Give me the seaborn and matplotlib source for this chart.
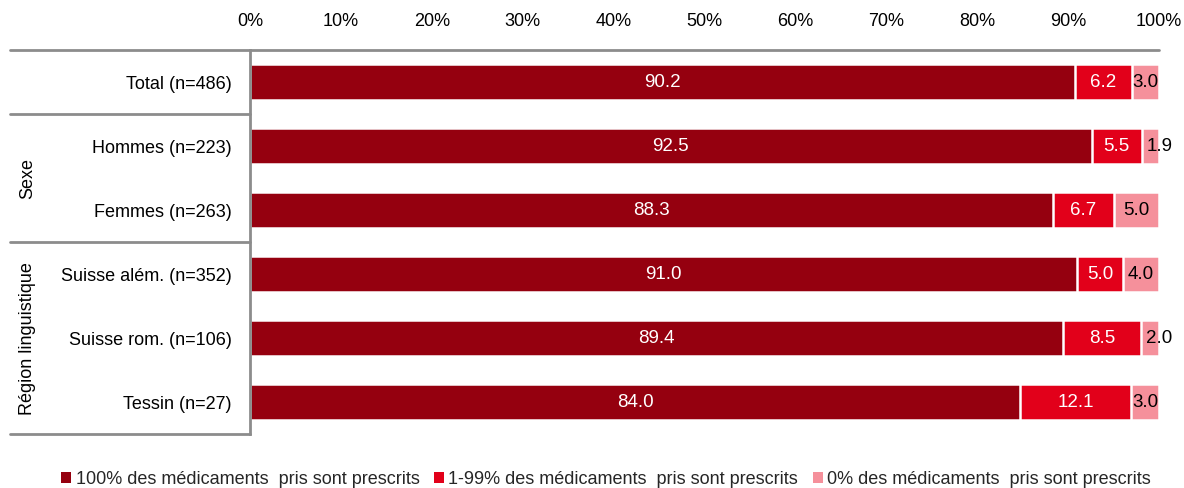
import matplotlib
matplotlib.use("Agg")
import matplotlib.pyplot as plt
import matplotlib.transforms as mtransforms
from matplotlib.patches import Patch
from matplotlib.lines import Line2D
import numpy as np
import pandas as pd
import seaborn as sns

# ---- data -------------------------------------------------------------
categories = ["Total (n=486)", "Hommes (n=223)", "Femmes (n=263)",
              "Suisse além. (n=352)", "Suisse rom. (n=106)", "Tessin (n=27)"]
full_prescribed = [90.2, 92.5, 88.3, 91.0, 89.4, 84.0]
partly_prescribed = [6.2, 5.5, 6.7, 5.0, 8.5, 12.1]
none_prescribed = [3.0, 1.9, 5.0, 4.0, 2.0, 3.0]
series_names = ["100% des médicaments  pris sont prescrits",
                "1-99% des médicaments  pris sont prescrits",
                "0% des médicaments  pris sont prescrits"]
groups = [("Sexe", 1, 2), ("Région linguistique", 3, 5)]
x_ticks = list(range(0, 101, 10))

colors = ["#95000F", "#E2001A", "#F5909B"]
label_colors = ["white", "white", "black"]
line_grey = "#8C8C8C"

sns.set_theme(style="white")
plt.rcParams["font.family"] = ["Liberation Sans", "DejaVu Sans"]
FS = 13

# each row is scaled to 100 %
raw = np.array([full_prescribed, partly_prescribed, none_prescribed])
share = raw / raw.sum(axis=0) * 100
cum = np.cumsum(share, axis=0)

W, H = 1184, 489
fig = plt.figure(figsize=(W / 100, H / 100), dpi=100)
ax = fig.add_axes([250 / W, 1 - 435 / H, 909 / W, 384 / H])

# stacked bars: draw cumulative totals from the longest to the shortest
for i in range(2, -1, -1):
    df = pd.DataFrame({"cat": categories, "val": cum[i]})
    sns.barplot(data=df, x="val", y="cat", orient="h", order=categories,
                color=colors[i], saturation=1, width=0.55,
                edgecolor="white", linewidth=1.8, ax=ax)

# value labels
for i in range(3):
    starts = cum[i] - share[i]
    for r in range(len(categories)):
        xc = starts[r] + share[i][r] / 2
        if raw[i][r] < 2.5:
            xc += 1.0
        ax.text(xc, r, f"{raw[i][r]:.1f}", ha="center", va="center",
                color=label_colors[i], fontsize=13.5)

ax.set_xlim(0, 100)
ax.set_ylim(len(categories) - 0.5, -0.5)
ax.set_xlabel("")
ax.set_ylabel("")
ax.xaxis.tick_top()
ax.set_xticks(x_ticks)
ax.set_xticklabels([f"{t}%" for t in x_ticks], fontsize=FS)
ax.tick_params(axis="x", length=0, pad=15, colors="black")
ax.tick_params(axis="y", length=0, pad=13, labelsize=FS, colors="black")
ax.grid(False)
for s in ["right", "bottom", "top"]:
    ax.spines[s].set_visible(False)
ax.spines["left"].set_color(line_grey)
ax.spines["left"].set_linewidth(2)

# row-header frame lines to the left of the bars
tr = mtransforms.blended_transform_factory(fig.transFigure, ax.transData)
fig.add_artist(Line2D([10 / W, 1159 / W], [-0.5, -0.5], transform=tr,
                      color=line_grey, lw=2))
for yb in [0.5, 2.5, len(categories) - 0.5]:
    fig.add_artist(Line2D([10 / W, 250 / W], [yb, yb], transform=tr,
                          color=line_grey, lw=2))

# group labels
for name, r0, r1 in groups:
    fig.text(28 / W, (r0 + r1) / 2, name, transform=tr, rotation=90,
             ha="center", va="center", fontsize=FS, color="black")

# legend
handles = [Patch(facecolor=c, edgecolor="white", linewidth=0) for c in colors]
fig.legend(handles, series_names, loc="center", bbox_to_anchor=(606 / W, 1 - 480 / H),
           ncol=3, frameon=False, fontsize=FS, handlelength=0.55, handleheight=0.55,
           handletextpad=0.25, columnspacing=0.8, borderaxespad=0)

fig.savefig("out.png", dpi=100)
